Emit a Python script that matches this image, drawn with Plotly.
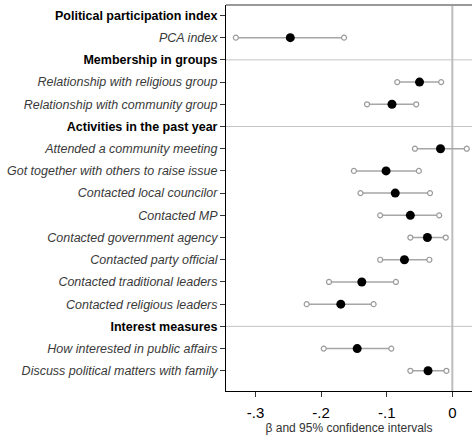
import plotly.graph_objects as go

# Row labels (top to bottom); headers carry no estimate
labels = [
    "Political participation index",
    "PCA index",
    "Membership in groups",
    "Relationship with religious group",
    "Relationship with community group",
    "Activities in the past year",
    "Attended a community meeting",
    "Got together with others to raise issue",
    "Contacted local councilor",
    "Contacted MP",
    "Contacted government agency",
    "Contacted party official",
    "Contacted traditional leaders",
    "Contacted religious leaders",
    "Interest measures",
    "How interested in public affairs",
    "Discuss political matters with family",
]
is_header = [True, False, True, False, False, True, False, False, False,
             False, False, False, False, False, True, False, False]

# Coefficient estimates and 95% confidence bounds (None for header rows)
beta = [None, -0.247, None, -0.050, -0.092, None, -0.018, -0.101, -0.087,
        -0.064, -0.038, -0.073, -0.138, -0.170, None, -0.145, -0.037]
ci_low = [None, -0.330, None, -0.084, -0.130, None, -0.057, -0.150, -0.140,
          -0.110, -0.064, -0.110, -0.188, -0.222, None, -0.196, -0.064]
ci_high = [None, -0.165, None, -0.017, -0.055, None, 0.022, -0.051, -0.034,
           -0.020, -0.010, -0.035, -0.086, -0.120, None, -0.093, -0.009]

x_tickvals = [-0.3, -0.2, -0.1, 0]
x_ticktext = ["-.3", "-.2", "-.1", "0"]
x_title = "β and 95% confidence intervals"

FONT = "Liberation Sans, Arial, sans-serif"

rows = list(range(len(labels)))
est_rows = [i for i in rows if beta[i] is not None]

fig = go.Figure()

# Confidence interval whiskers
seg_x, seg_y = [], []
for i in est_rows:
    seg_x += [ci_low[i], ci_high[i], None]
    seg_y += [i, i, None]
fig.add_trace(go.Scatter(
    x=seg_x, y=seg_y, mode="lines",
    line=dict(color="#a6a6a6", width=1.5),
    hoverinfo="skip", showlegend=False,
))

# Hollow end caps
fig.add_trace(go.Scatter(
    x=[ci_low[i] for i in est_rows] + [ci_high[i] for i in est_rows],
    y=est_rows + est_rows, mode="markers",
    marker=dict(symbol="circle", size=5, color="white",
                line=dict(color="#9a9a9a", width=1.2)),
    hoverinfo="skip", showlegend=False,
))

# Point estimates
fig.add_trace(go.Scatter(
    x=[beta[i] for i in est_rows], y=est_rows, mode="markers",
    marker=dict(symbol="circle", size=9, color="black"),
    showlegend=False,
))

ticktext = [
    f"<b>{t}</b>" if h else f"<i><span style='color:#3a3a3a'>{t}</span></i>"
    for t, h in zip(labels, is_header)
]

shapes = []
# Separators at section headers (below the first)
for i in rows[1:]:
    if is_header[i]:
        shapes.append(dict(type="line", xref="paper", x0=0, x1=1, yref="y",
                           y0=i, y1=i, line=dict(color="#c4c4c4", width=1),
                           layer="below"))
# Zero reference line
shapes.append(dict(type="line", xref="x", x0=0, x1=0, yref="paper", y0=0, y1=1,
                   line=dict(color="#bdbdbd", width=2), layer="below"))
# Top frame line
shapes.append(dict(type="line", xref="paper", x0=0, x1=1, yref="paper",
                   y0=1, y1=1, line=dict(color="#999999", width=2)))

fig.update_layout(
    width=472, height=435,
    margin=dict(l=226, r=0, t=5, b=44),
    paper_bgcolor="white", plot_bgcolor="white",
    font=dict(family=FONT, color="black"),
    shapes=shapes,
    xaxis=dict(
        range=[-0.345, 0.030],
        tickvals=x_tickvals, ticktext=x_ticktext,
        tickfont=dict(size=15, color="black"),
        ticks="outside", ticklen=5, tickcolor="#333333",
        ticklabelstandoff=3,
        showline=True, linecolor="black", linewidth=1,
        showgrid=False, zeroline=False,
        title=dict(text=x_title, font=dict(size=12, color="#333333"), standoff=1),
    ),
    yaxis=dict(
        range=[16.91, -0.47],
        tickvals=rows, ticktext=ticktext,
        tickfont=dict(size=12.5, color="black"),
        ticks="outside", ticklen=5, tickcolor="#333333",
        showline=True, linecolor="black", linewidth=1,
        showgrid=False, zeroline=False,
    ),
)

fig.write_html("out.html")
